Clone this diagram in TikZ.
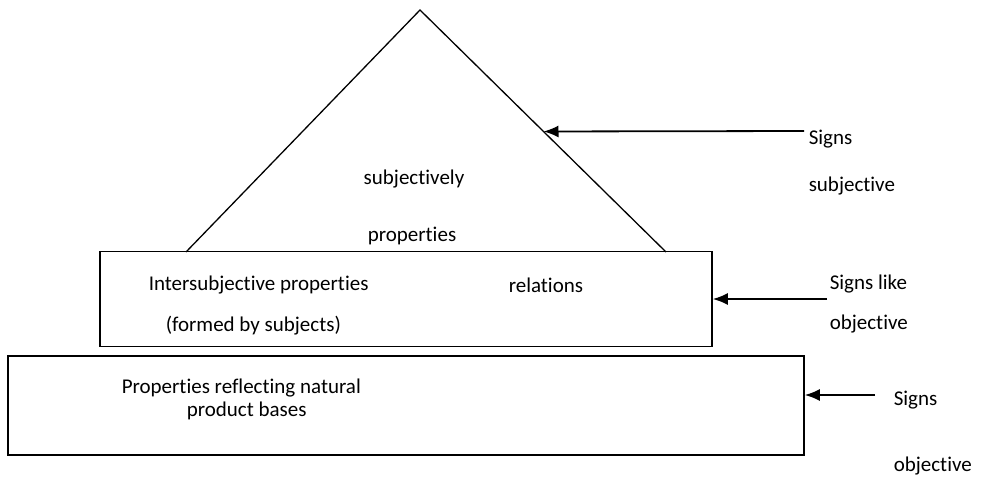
\documentclass[tikz,border=0pt]{standalone}
\usepackage{fontspec}
\setmainfont[Ligatures=NoCommon]{Carlito}
\usetikzlibrary{arrows.meta,calc}
\begin{document}
\begin{tikzpicture}[x=1pt,y=-1pt,
  line width=1.5pt,
  lbl/.style={inner sep=0pt,font=\fontsize{21}{25}\selectfont},
  box/.style={draw,rectangle,inner sep=0pt},
  arr/.style={line width=1.8pt,-{Latex[length=15pt,width=12pt]}}]
\useasboundingbox (0,0) rectangle (995,483);
% boxes
\node[box,minimum width=612pt,minimum height=95pt] (mid) at (406,299) {};
\node[box,minimum width=796pt,minimum height=99pt] (bot) at (406,405.5) {};
% triangle
\coordinate (apex) at (420,10);
\coordinate (tl) at (186,252);
\coordinate (tr) at (666,252);
\draw[line width=1.3pt] (tl) -- (apex) -- (tr);
% texts
\node[lbl] (t1) at (414,179) {subjectively};
\node[lbl] (t2) at (412,236) {properties};
\node[lbl,anchor=west] (t3) at (148,285) {Intersubjective properties};
\node[lbl,anchor=west] (t4) at (508,285) {relations};
\node[lbl,anchor=west] (t5) at (165,326) {(formed by subjects)};
\node[lbl,anchor=west] (t6) at (121,388) {Properties reflecting natural};
\node[lbl,anchor=west] (t7) at (186,411) {product bases};
\node[lbl,anchor=west] (s1) at (808,139) {Signs};
\node[lbl,anchor=west] (s2) at (808,186) {subjective};
\node[lbl,anchor=west] (s3) at (829,284) {Signs like};
\node[lbl,anchor=west] (s4) at (829,324) {objective};
\node[lbl,anchor=west] (s5) at (893,400) {Signs};
\node[lbl,anchor=west] (s6) at (893,466) {objective};
% arrows
\coordinate (a1s) at (804,131);
\coordinate (a1e) at ($(apex)!0.502!(tr)$);
\coordinate (a2s) at (827,299);
\coordinate (a3s) at (875,395);
\draw[arr] (a1s) -- (a1e);
\draw[arr] (a2s) -- (mid.east |- a2s);
\draw[arr] (a3s) -- (bot.east |- a3s);
\end{tikzpicture}
\end{document}
